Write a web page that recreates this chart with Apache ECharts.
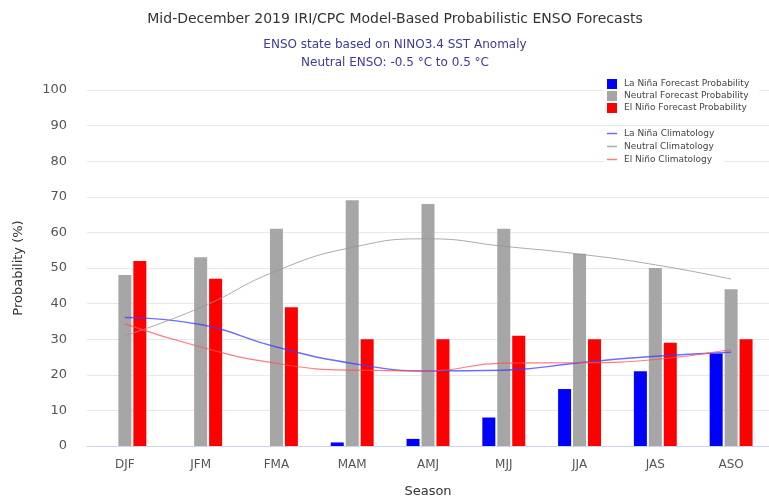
<!DOCTYPE html>
<html>
<head>
<meta charset="utf-8">
<script src="https://cdn.jsdelivr.net/npm/echarts@6/dist/echarts.min.js"></script>
<style>html,body{margin:0;padding:0;background:#fff}#c{width:769px;height:503px}</style>
</head>
<body>
<div id="c"></div>
<script>
var seasons = ['DJF','JFM','FMA','MAM','AMJ','MJJ','JJA','JAS','ASO'];
var laninaProb = [0, 0, 0, 1, 2, 8, 16, 21, 26];
var neutralProb = [48, 53, 61, 69, 68, 61, 54, 50, 44];
var elninoProb = [52, 47, 39, 30, 30, 31, 30, 29, 30];
var laninaClim = [36.1, 34.1, 27.8, 23.2, 21.1, 21.3, 23.4, 25.2, 26.3];
var neutralClim = [31, 38.9, 49.2, 55.8, 58.2, 56.1, 53.9, 50.9, 46.9];
var elninoClim = [34.3, 27.8, 23.2, 21.3, 21.1, 23.3, 23.4, 24.3, 27.1];
var yTicks = [0, 100, 10];

var FONT = 'DejaVu Sans';
var chart = echarts.init(document.getElementById('c'));
chart.setOption({
  animation: false,
  backgroundColor: '#fff',
  textStyle: {fontFamily: FONT},
  title: [
    {text: 'Mid-December 2019 IRI/CPC Model-Based Probabilistic ENSO Forecasts', left: 390, textAlign: 'center', top: 7,
     textStyle: {fontSize: 14, fontWeight: 'normal', color: '#333', fontFamily: FONT}},
    {text: 'ENSO state based on NINO3.4 SST Anomaly\nNeutral ENSO: -0.5 \u00b0C to 0.5 \u00b0C', left: 390, textAlign: 'center', top: 31,
     textStyle: {fontSize: 12, lineHeight: 18, fontWeight: 'normal', color: '#3d3a9a', fontFamily: FONT}}
  ],
  legend: [
    {data: ['La Ni\u00f1a Forecast Probability','Neutral Forecast Probability','El Ni\u00f1o Forecast Probability'],
     orient: 'vertical', left: 605, top: 79, padding: [0, 10, 2, 2], backgroundColor: '#fff',
     icon: 'rect', itemWidth: 10, itemHeight: 10, itemGap: 2,
     textStyle: {fontSize: 9, color: '#444', fontFamily: FONT, padding: [0,0,0,2]}},
    {data: ['La Ni\u00f1a Climatology','Neutral Climatology','El Ni\u00f1o Climatology'],
     orient: 'vertical', left: 605, top: 128, padding: [0, 10, 2, 2], backgroundColor: '#fff',
     icon: 'rect', itemWidth: 10, itemHeight: 1.5, itemGap: 2,
     textStyle: {fontSize: 9, color: '#444', fontFamily: FONT, lineHeight: 11, padding: [0,0,0,2]}}
  ],
  grid: {left: 87, top: 90, width: 690, height: 360, containLabel: false},
  xAxis: {
    type: 'category', data: seasons, boundaryGap: true,
    name: 'Season', nameLocation: 'middle', nameGap: 39,
    nameTextStyle: {fontSize: 13, color: '#333', fontFamily: FONT},
    axisLine: {lineStyle: {color: '#ccd6eb'}}, axisTick: {show: false},
    axisLabel: {fontSize: 12, color: '#555', margin: 13, fontFamily: FONT}
  },
  yAxis: {
    type: 'value', min: yTicks[0], max: yTicks[1], interval: yTicks[2],
    name: 'Probability (%)', nameLocation: 'middle', nameGap: 62, nameRotate: 90,
    nameTextStyle: {fontSize: 13, color: '#333', fontFamily: FONT},
    axisLine: {show: false}, axisTick: {show: false},
    axisLabel: {fontSize: 13, color: '#555', margin: 20, fontFamily: FONT},
    splitLine: {lineStyle: {color: '#e8e8e8'}}
  },
  series: [
    {name: 'La Ni\u00f1a Forecast Probability', type: 'bar', data: laninaProb, barWidth: 13, barGap: '15%', itemStyle: {color: '#0000ff'}},
    {name: 'Neutral Forecast Probability', type: 'bar', data: neutralProb, barWidth: 13, barGap: '15%', itemStyle: {color: '#a6a6a6'}},
    {name: 'El Ni\u00f1o Forecast Probability', type: 'bar', data: elninoProb, barWidth: 13, barGap: '15%', itemStyle: {color: '#ff0000'}},
    {name: 'La Ni\u00f1a Climatology', type: 'line', data: laninaClim, smooth: true, symbol: 'none', z: 5,
     color: 'rgba(60,60,255,0.75)', lineStyle: {width: 1.5, color: 'rgba(60,60,255,0.75)'}},
    {name: 'Neutral Climatology', type: 'line', data: neutralClim, smooth: true, symbol: 'none', z: 5,
     color: 'rgba(150,150,150,0.8)', lineStyle: {width: 1, color: 'rgba(150,150,150,0.8)'}},
    {name: 'El Ni\u00f1o Climatology', type: 'line', data: elninoClim, smooth: true, symbol: 'none', z: 5,
     color: 'rgba(255,80,80,0.75)', lineStyle: {width: 1.2, color: 'rgba(255,80,80,0.75)'}}
  ]
});
</script>
</body>
</html>
